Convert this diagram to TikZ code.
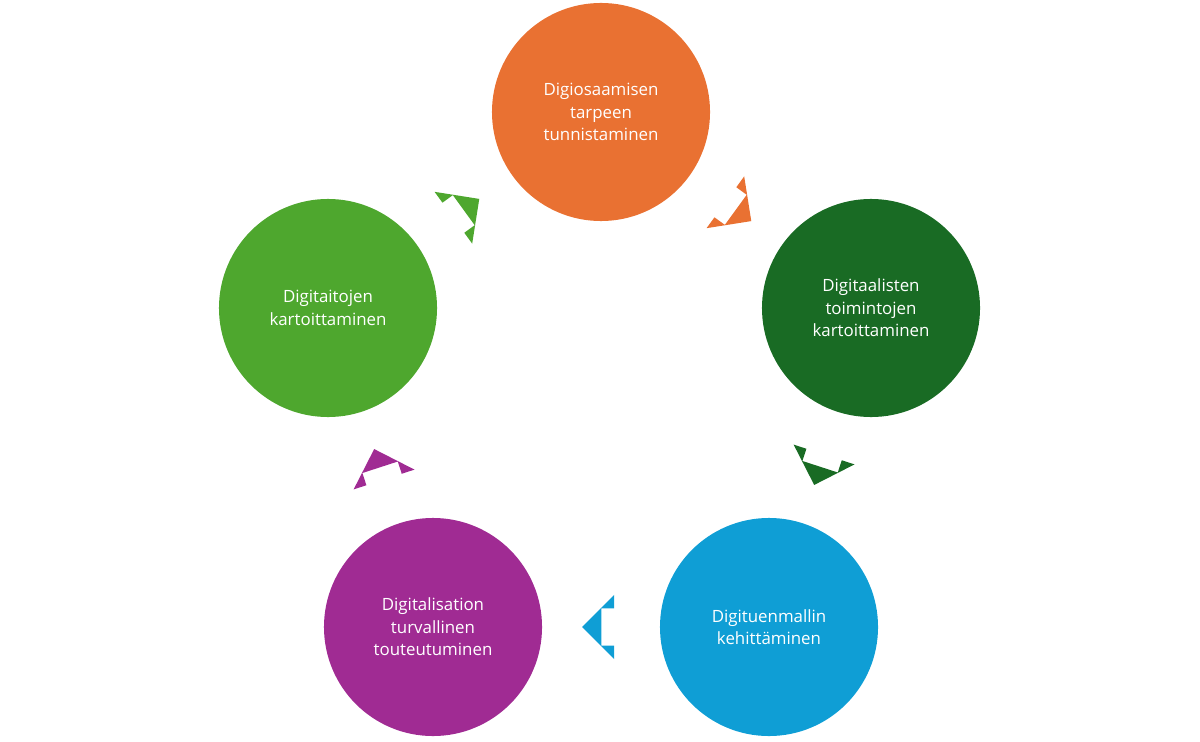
\documentclass[tikz,border=0pt]{standalone}
\usepackage{fontspec}
\setmainfont{Open Sans}
\usetikzlibrary{shapes.arrows}
\definecolor{orangeC}{HTML}{E97132}
\definecolor{darkgreenC}{HTML}{196B24}
\definecolor{blueC}{HTML}{0F9ED5}
\definecolor{purpleC}{HTML}{A02B93}
\definecolor{greenC}{HTML}{4EA72E}
\begin{document}
\begin{tikzpicture}[x=0.025cm, y=-0.025cm,
    phase/.style={circle, minimum size=5.45cm, inner sep=0pt, text=white,
        align=center, font=\fontsize{12}{16}\selectfont},
    flow/.style={single arrow, draw=none, inner xsep=0pt, inner ysep=0.45cm,
        single arrow head extend=0.33cm, minimum width=1.6cm,
        single arrow tip angle=90}]
    \useasboundingbox (0,0) rectangle (1200,741);

    \node[phase, fill=orangeC] (s1) at (601,112) {Digiosaamisen\\tarpeen\\tunnistaminen};
    \node[phase, fill=darkgreenC] (s2) at (871,308) {Digitaalisten\\toimintojen\\kartoittaminen};
    \node[phase, fill=blueC] (s3) at (769,627) {Digituenmallin\\kehittäminen};
    \node[phase, fill=purpleC] (s4) at (433,627) {Digitalisation\\turvallinen\\touteutuminen};
    \node[phase, fill=greenC] (s5) at (328,308) {Digitaitojen\\kartoittaminen};

    % arrows between the phases
    \foreach \c/\x/\y/\a in {orangeC/736/210/-36, darkgreenC/820/467/-108,
                          blueC/601/627/180, purpleC/380/467/108, greenC/464/210/36} {
        \node[flow, fill=\c, rotate=\a] at (\x,\y) {};
    }
\end{tikzpicture}
\end{document}
